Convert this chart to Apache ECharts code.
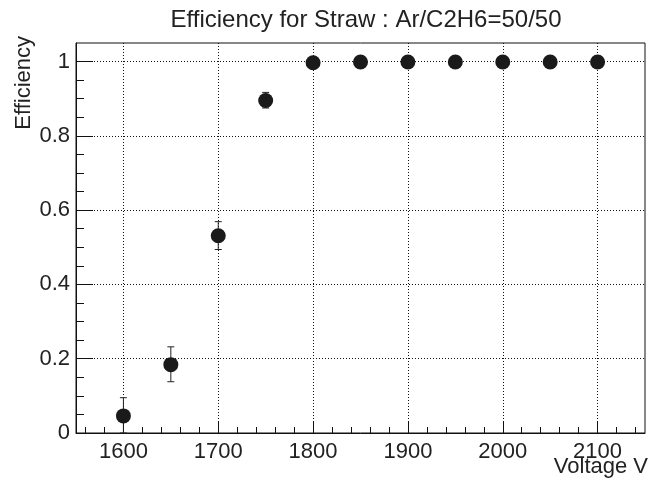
<!DOCTYPE html>
<html>
<head>
<meta charset="utf-8">
<script src="https://cdn.jsdelivr.net/npm/echarts@6/dist/echarts.min.js"></script>
<style>
  html, body { margin: 0; padding: 0; background: #fff; }
  #main { width: 655px; height: 483px; }
</style>
</head>
<body>
<div id="main"></div>
<script>
// data
var voltage = [1600, 1650, 1700, 1750, 1800, 1850, 1900, 1950, 2000, 2050, 2100];
var efficiency = [0.046, 0.184, 0.531, 0.895, 0.997, 0.999, 0.999, 0.999, 0.999, 0.999, 0.999];
var errLow = [0.046, 0.046, 0.037, 0.02, 0.003, 0.002, 0.002, 0.002, 0.002, 0.002, 0.002];
var errHigh = [0.049, 0.048, 0.038, 0.022, 0.003, 0.001, 0.001, 0.001, 0.001, 0.001, 0.001];

var xMajor = [1600, 1700, 1800, 1900, 2000, 2100];
var xMinor = [];
for (var v = 1560; v < 2150; v += 20) {
  if (v % 100 !== 0) xMinor.push(v);
}
var yMajor = [0, 0.2, 0.4, 0.6, 0.8, 1];
var yMinor = [];
for (var k = 1; k < 21; k++) {
  if (k % 4 !== 0) yMinor.push(k * 0.05);
}

var fontFam = '"Liberation Sans", Arial, Helvetica, sans-serif';

var points = [];
var bars = [];
for (var i = 0; i < voltage.length; i++) {
  points.push([voltage[i], efficiency[i]]);
  bars.push([voltage[i], Math.max(0, efficiency[i] - errLow[i]), efficiency[i] + errHigh[i]]);
}

var chart = echarts.init(document.getElementById('main'), null, { renderer: 'canvas' });

var option = {
  animation: false,
  backgroundColor: '#fff',
  title: {
    text: 'Efficiency for Straw : Ar/C2H6=50/50',
    left: 361,
    top: 3,
    textAlign: 'center',
    textStyle: { fontFamily: fontFam, fontSize: 24, fontWeight: 'normal', color: '#222' }
  },
  grid: {
    left: 76, right: 10, top: 43, bottom: 50,
    show: true, borderColor: '#111', borderWidth: 1, backgroundColor: 'transparent'
  },
  graphic: [
    {
      type: 'text', x: 24, y: 36, rotation: Math.PI / 2,
      style: { text: 'Efficiency', fill: '#222', font: '22px ' + fontFam, align: 'right', verticalAlign: 'middle' }
    },
    {
      type: 'text', x: 648, y: 467,
      style: { text: 'Voltage V', fill: '#222', font: '22px ' + fontFam, align: 'right', verticalAlign: 'middle' }
    }
  ],
  xAxis: [
    {
      type: 'value', min: 1550, max: 2150,
      axisLine: { show: true, onZero: false, lineStyle: { color: '#111', width: 1 } },
      axisTick: { show: true, inside: true, length: 12, customValues: xMajor, lineStyle: { color: '#111' } },
      axisLabel: {
        customValues: xMajor, fontFamily: fontFam, fontSize: 22, color: '#222', margin: 8,
        formatter: function (v) { return String(v); }
      },
      splitLine: { show: true, lineStyle: { color: '#111', type: [1, 2], width: 1 } }
    },
    {
      type: 'value', min: 1550, max: 2150, position: 'bottom',
      axisLine: { show: false },
      axisTick: { show: true, inside: true, length: 6, customValues: xMinor, lineStyle: { color: '#111' } },
      axisLabel: { show: false },
      splitLine: { show: false }
    }
  ],
  yAxis: [
    {
      type: 'value', min: 0, max: 1.05,
      axisLine: { show: true, onZero: false, lineStyle: { color: '#111', width: 1 } },
      axisTick: { show: true, inside: true, length: 17, customValues: yMajor, lineStyle: { color: '#111' } },
      axisLabel: {
        customValues: yMajor, fontFamily: fontFam, fontSize: 22, color: '#222', margin: 6,
        formatter: function (v) { return String(Math.round(v * 10) / 10); }
      },
      splitLine: { show: true, lineStyle: { color: '#111', type: [1, 2], width: 1 } }
    },
    {
      type: 'value', min: 0, max: 1.05, position: 'left',
      axisLine: { show: false },
      axisTick: { show: true, inside: true, length: 8, customValues: yMinor, lineStyle: { color: '#111' } },
      axisLabel: { show: false },
      splitLine: { show: false }
    }
  ],
  series: [
    {
      type: 'custom',
      xAxisIndex: 0, yAxisIndex: 0,
      data: bars,
      z: 3,
      renderItem: function (params, api) {
        var x = api.value(0);
        var lo = api.coord([x, api.value(1)]);
        var hi = api.coord([x, api.value(2)]);
        var cap = 3.5;
        var st = { stroke: '#222', lineWidth: 1 };
        return {
          type: 'group',
          children: [
            { type: 'line', shape: { x1: lo[0], y1: lo[1], x2: hi[0], y2: hi[1] }, style: st },
            { type: 'line', shape: { x1: hi[0] - cap, y1: hi[1], x2: hi[0] + cap, y2: hi[1] }, style: st },
            { type: 'line', shape: { x1: lo[0] - cap, y1: lo[1], x2: lo[0] + cap, y2: lo[1] }, style: st }
          ]
        };
      }
    },
    {
      type: 'scatter',
      xAxisIndex: 0, yAxisIndex: 0,
      data: points,
      symbol: 'circle',
      symbolSize: 15,
      itemStyle: { color: '#1a1a1a', opacity: 1 },
      z: 4
    }
  ]
};

chart.setOption(option);
</script>
</body>
</html>
